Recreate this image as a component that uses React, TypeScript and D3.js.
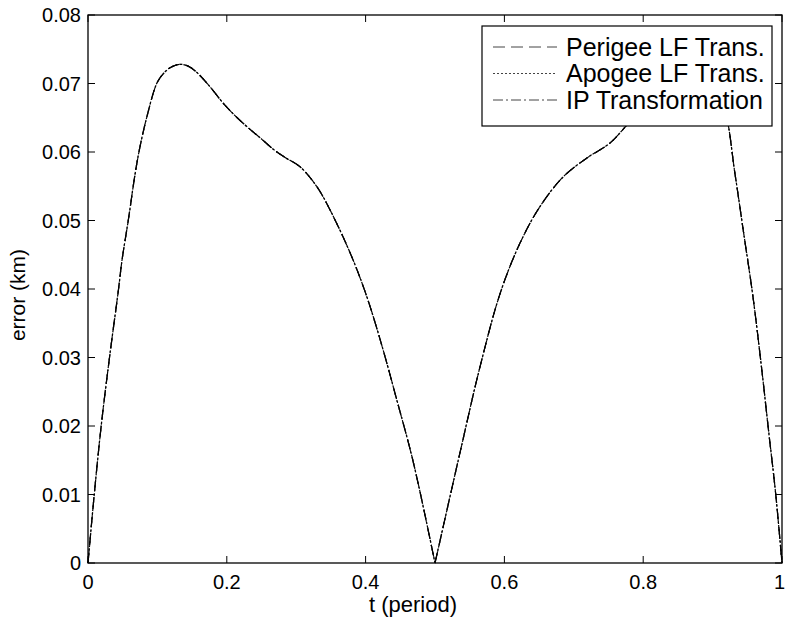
import React from "react";
import * as d3 from "d3";

const tPeriod = [
  0, 0.009, 0.019, 0.031, 0.044, 0.049, 0.058, 0.068, 0.074, 0.085, 0.1, 0.112, 0.122, 0.133,
  0.145, 0.157, 0.176, 0.195, 0.215, 0.229, 0.25, 0.267, 0.284, 0.306, 0.33, 0.349, 0.378, 0.4,
  0.421, 0.445, 0.469, 0.5,
  0.536, 0.565, 0.594, 0.6225, 0.651, 0.685, 0.7185, 0.752, 0.776, 0.8, 0.825, 0.85,
  0.867, 0.885, 0.9, 0.918, 0.932, 0.945, 0.958, 0.97, 0.981, 0.991, 1.0,
];
const errorKm = [
  0, 0.01, 0.02, 0.03, 0.04, 0.0442, 0.05, 0.0569, 0.0603, 0.0652, 0.0702, 0.0718, 0.0725, 0.0728,
  0.0725, 0.0716, 0.0695, 0.0671, 0.065, 0.0637, 0.0619, 0.0604, 0.0592, 0.0578, 0.0549, 0.0515, 0.0452, 0.0394,
  0.0326, 0.0238, 0.0146, 0,
  0.0161, 0.0287, 0.0394, 0.0467, 0.052, 0.0564, 0.0591, 0.0613, 0.0639, 0.0668, 0.0698, 0.0718,
  0.0725, 0.0722, 0.0702, 0.066, 0.057, 0.048, 0.039, 0.029, 0.019, 0.01, 0,
];

const seriesNames = ["Perigee LF Trans.", "Apogee LF Trans.", "IP Transformation"];
const seriesDash = ["12,6", "2,2", "10,3,2,3"];

const xTicks = [0, 0.2, 0.4, 0.6, 0.8, 1];
const yTicks = [0, 0.01, 0.02, 0.03, 0.04, 0.05, 0.06, 0.07, 0.08];

const W = 786;
const H = 625;
const L = 88, R = 782, T = 15, B = 563;

export default function App() {
  const x = d3.scaleLinear().domain([0, 1]).range([L, R]);
  const y = d3.scaleLinear().domain([0, 0.08]).range([B, T]);
  const pts = tPeriod.map((t, i) => [t, errorKm[i]] as [number, number]);
  const firstHalf = pts.filter((p) => p[0] <= 0.5);
  const secondHalf = pts.filter((p) => p[0] >= 0.5);
  const line = d3
    .line<[number, number]>()
    .x((d) => x(d[0]))
    .y((d) => y(d[1]))
    .curve(d3.curveCatmullRom.alpha(0.5));
  const path = (line(firstHalf) || "") + " " + (line(secondHalf) || "");
  const font = "'Liberation Sans', Arial, Helvetica, sans-serif";
  const tickLen = 7;
  const fmt = (v: number) => (v === 0 ? "0" : v === 1 ? "1" : String(+v.toFixed(2)));

  const legX = 482, legY = 26, legW = 290, legH = 100;
  const rowY = [47, 73.5, 100];

  return (
    <svg width={W} height={H} style={{ position: "absolute", left: 0, top: 0, background: "#fff" }} fontFamily={font}>
      <rect x={0} y={0} width={W} height={H} fill="#fff" />
      {seriesNames.map((n, i) => (
        <path key={n} d={path} fill="none" stroke="#000" strokeWidth={1.2} strokeDasharray={seriesDash[i]} />
      ))}
      {xTicks.map((t) => (
        <g key={"xt" + t}>
          <line x1={x(t)} x2={x(t)} y1={B} y2={B - tickLen} stroke="#000" />
          <line x1={x(t)} x2={x(t)} y1={T} y2={T + tickLen} stroke="#000" />
          <text x={t === 1 ? 785 : x(t)} y={589} textAnchor={t === 1 ? "end" : "middle"} fontSize={20}>{fmt(t)}</text>
        </g>
      ))}
      {yTicks.map((v) => (
        <g key={"yt" + v}>
          <line x1={L} x2={L + tickLen} y1={y(v)} y2={y(v)} stroke="#000" />
          <line x1={R} x2={R - tickLen} y1={y(v)} y2={y(v)} stroke="#000" />
          <text x={81} y={y(v)} dy="0.35em" textAnchor="end" fontSize={20}>{fmt(v)}</text>
        </g>
      ))}
      <rect x={L} y={T} width={R - L} height={B - T} fill="none" stroke="#000" strokeWidth={1.3} />
      <text x={413} y={612} textAnchor="middle" fontSize={22}>t (period)</text>
      <text transform={`translate(25, ${(T + B) / 2 + 6}) rotate(-90)`} textAnchor="middle" fontSize={21}>error (km)</text>
      <rect x={legX} y={legY} width={legW} height={legH} fill="#fff" stroke="#000" strokeWidth={1.2} />
      {seriesNames.map((n, i) => (
        <g key={"lg" + n}>
          <line x1={493} x2={557} y1={rowY[i]} y2={rowY[i]} stroke="#444" strokeWidth={1} strokeDasharray={seriesDash[i]} />
          <text x={566} y={rowY[i]} dy="0.35em" fontSize={25}>{n}</text>
        </g>
      ))}
    </svg>
  );
}
